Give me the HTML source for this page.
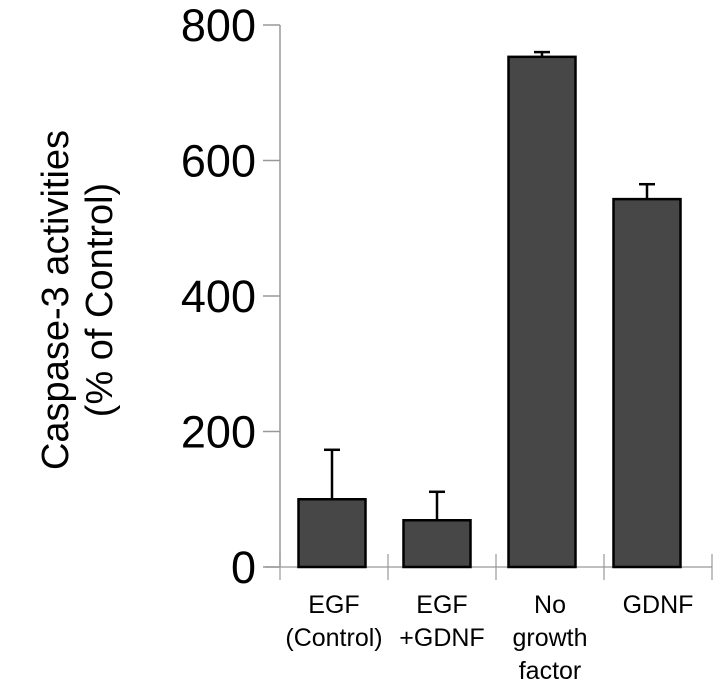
<!DOCTYPE html>
<html><head><meta charset="utf-8"><style>
html,body{margin:0;padding:0;background:#fff;}
svg{display:block;font-family:"Liberation Sans",Arial,sans-serif;}
</style></head><body>
<svg id="chart" width="714" height="695" viewBox="0 0 714 695" xmlns="http://www.w3.org/2000/svg">
<g transform="translate(76,300) rotate(-90)">
<text x="0" y="-8" text-anchor="middle" font-size="38" fill="#000">Caspase-3 activities</text>
<text x="0" y="36" text-anchor="middle" font-size="38" fill="#000">(% of Control)</text>
</g>
<g id="axes"></g>
<g id="bars"></g>
<g id="xlabels"></g>
</svg>
<script>
const categories=[["EGF","(Control)"],["EGF","+GDNF"],["No","growth","factor"],["GDNF"]];
const values=[100,69,753,543];
const errors=[73,42,7,22];
const yTicks=[0,200,400,600,800];

const NS="http://www.w3.org/2000/svg";
const y0=567,yScale=(567-25)/800;
function Y(v){return y0-v*yScale;}
function X(i){return 332+i*105;}
function mk(tag,attrs,parent,txt){const e=document.createElementNS(NS,tag);for(const k in attrs)e.setAttribute(k,attrs[k]);if(txt!==undefined)e.textContent=txt;parent.appendChild(e);return e;}
const axes=document.getElementById('axes'),bars=document.getElementById('bars'),xl=document.getElementById('xlabels');
let a=mk('line',{x1:280,y1:Y(800),x2:280,y2:y0,stroke:'#999','stroke-width':1.5},axes);


a=mk('line',{x1:265,y1:y0,x2:712,y2:y0,stroke:'#aaa','stroke-width':1.5},axes);


yTicks.forEach(t=>{
 const l=mk('line',{x1:263,y1:Y(t),x2:280,y2:Y(t),stroke:'#999','stroke-width':1.5},axes);
 
 
 const tx=mk('text',{x:256,y:Y(t)+16,'text-anchor':'end','font-size':45,fill:'#000'},axes,String(t));
 
 
});
for(let i=0;i<=categories.length;i++){
 const x=280+i*108;
 const l=mk('line',{x1:x,y1:554,x2:x,y2:580,stroke:'#999','stroke-width':1.2},axes);
 
 
}
values.forEach((v,i)=>{
 const cx=X(i),w=67;
 const e=mk('line',{x1:cx,y1:Y(v+errors[i]),x2:cx,y2:Y(v),stroke:'#000','stroke-width':2.5},bars);
 
 
 const c=mk('line',{x1:cx-8,y1:Y(v+errors[i]),x2:cx+8,y2:Y(v+errors[i]),stroke:'#000','stroke-width':2.5},bars);
 
 
 const r=mk('rect',{x:cx-w/2,y:Y(v),width:w,height:y0-Y(v),fill:'#474747',stroke:'#000','stroke-width':2.5},bars);
 
 
 const t=mk('text',{'text-anchor':'middle','font-size':25,fill:'#000'},xl);
 
 
 categories[i].forEach((ln,j)=>{mk('tspan',{x:334+i*108,y:613+j*33},t,ln);});
});
</script>
</body></html>
